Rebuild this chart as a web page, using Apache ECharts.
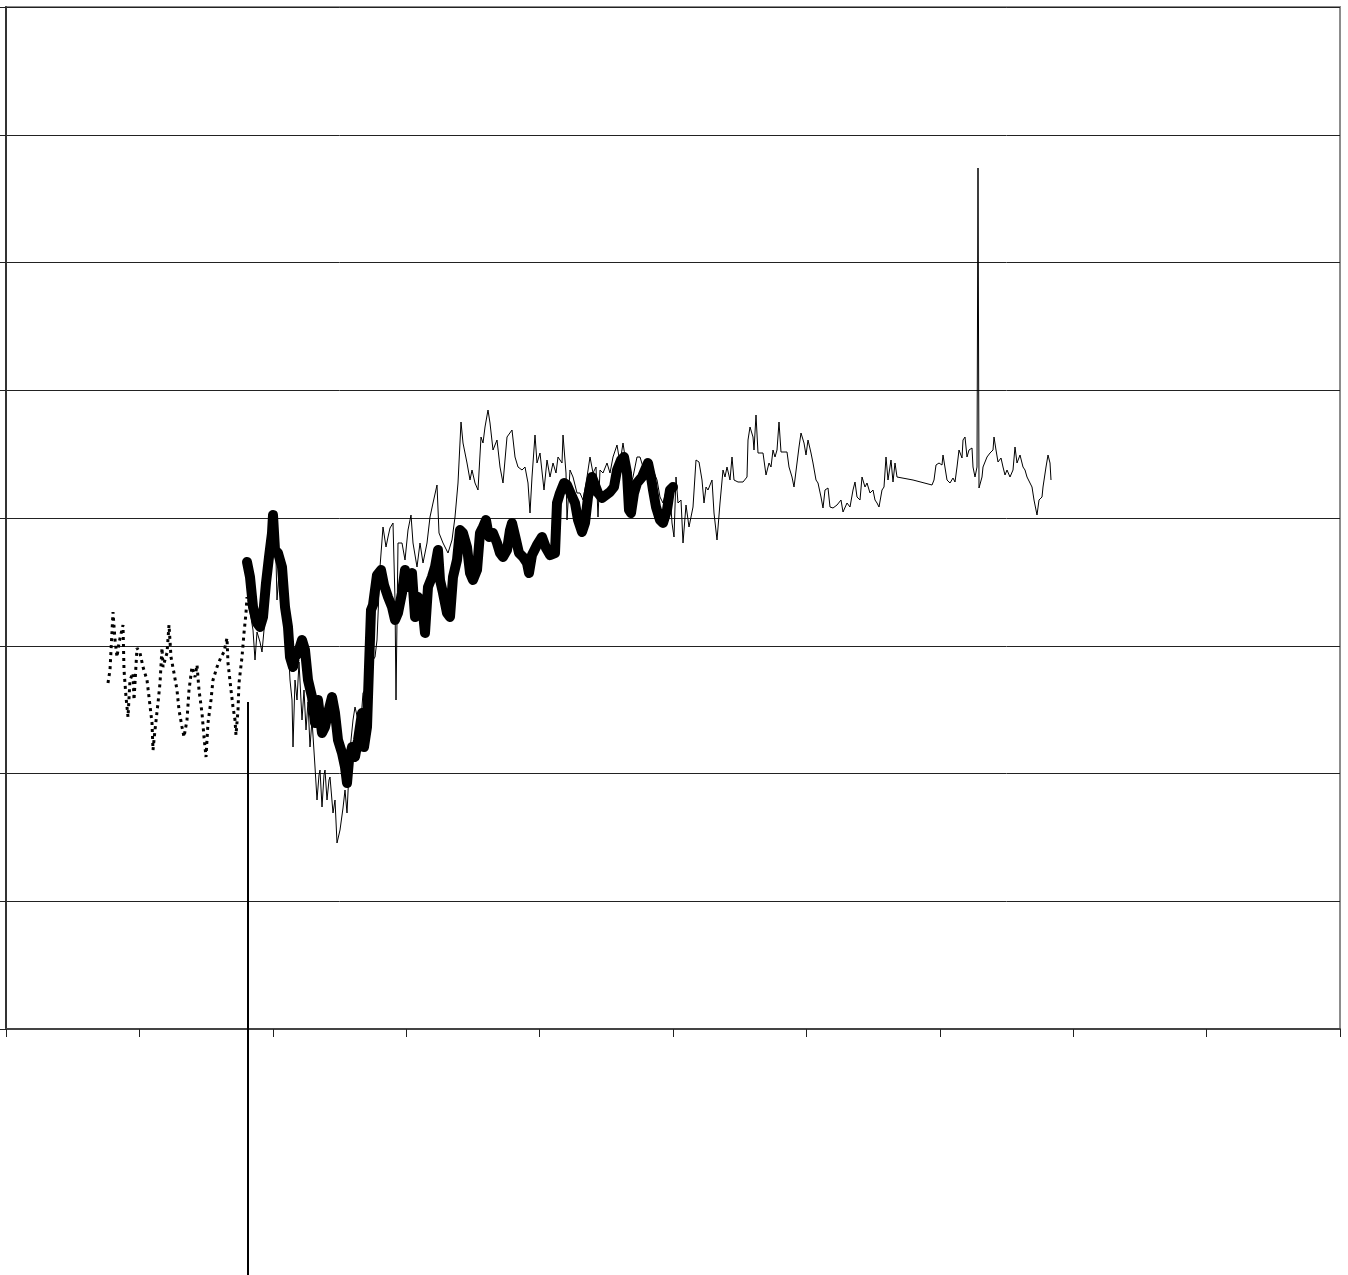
<!DOCTYPE html>
<html>
<head>
<meta charset="utf-8">
<script src="https://cdn.jsdelivr.net/npm/echarts@6/dist/echarts.min.js"></script>
<style>
html,body{margin:0;padding:0;background:#fff;}
#chart{width:1348px;height:1275px;}
</style>
</head>
<body>
<div id="chart"></div>
<script>
// Axis ranges (arbitrary units, no labels shown in the reference)
const xMin = 0, xMax = 1334, xStep = 133.4;
const yMin = 0, yMax = 1022, yStep = 127.75;

// Dotted series (early period)
const dottedX = [102,104,107,109,111,113,117,118,120,122,124,127,128,131,134,137,141,143,146,147,149,152,154,156,157,161,163,165,168,171,173,176,178,181,183,186,189,191,193,196,198,200,202,205,207,211,215,218,221,222,225,227,229,230,232,233,236,238,240,241];
const dottedY = [346,359,417,389,372,386,404,359,332,312,349,356,329,381,376,362,349,332,306,279,299,326,346,381,362,376,404,372,356,339,319,302,292,309,339,362,352,364,339,316,292,272,306,329,349,362,372,377,391,366,339,322,309,294,319,346,372,396,416,432];

// Thick series (smoothed)
const thickX = [241,244,247,251,254,257,260,263,266,267,269,272,276,279,282,284,287,289,292,296,299,302,306,309,312,316,319,322,326,329,332,336,339,341,343,346,349,352,356,358,361,363,365,367,371,375,378,382,386,389,392,396,399,402,406,409,412,416,419,422,426,429,432,434,437,441,444,447,451,454,457,461,464,467,471,474,477,480,483,487,491,494,497,501,504,506,510,513,517,521,523,526,531,536,540,544,549,551,554,558,561,564,569,572,576,579,582,586,589,592,596,600,604,608,611,615,618,621,623,625,628,631,636,639,642,645,647,650,654,657,661,664,667];
const thickY = [467,452,422,406,402,412,446,472,496,514,479,476,462,422,402,372,362,372,376,389,379,349,332,306,329,296,302,316,332,316,289,276,262,246,269,282,272,289,316,282,302,362,419,424,454,459,444,432,422,409,416,436,459,442,456,412,432,426,396,442,452,462,479,449,436,416,412,452,469,499,496,482,456,449,459,496,502,509,492,496,486,476,472,479,499,506,489,476,472,466,456,474,484,492,481,474,476,526,536,546,544,537,526,509,497,506,532,552,544,536,531,534,537,542,559,569,572,556,519,516,536,546,552,559,566,552,539,522,509,506,519,539,542];

// Thin series (raw)
const thinX = [242,244,247,249,251,254,256,258,260,263,266,268,270,271,273,276,279,282,284,286,287,289,291,293,296,298,300,302,304,306,309,311,313,314,316,318,319,321,323,324,327,329,331,334,337,339,341,344,347,349,352,354,357,361,364,367,369,371,374,377,380,382,384,387,389,390,391,392,396,399,402,405,407,411,414,417,421,424,427,431,433,437,442,446,449,452,455,457,461,464,466,469,472,475,477,479,482,484,487,491,494,497,501,506,509,512,516,519,522,524,526,529,531,534,538,541,544,547,550,552,556,557,560,561,564,567,571,574,577,581,584,587,590,592,594,597,601,604,607,611,614,617,621,624,627,631,634,637,641,644,647,651,654,657,661,664,666,668,670,672,675,677,680,683,687,690,693,696,698,700,702,706,708,711,714,717,719,721,724,726,728,732,737,741,742,744,747,748,750,752,754,757,760,763,765,767,769,771,773,775,777,781,783,786,788,791,793,795,798,800,802,805,807,810,812,815,817,819,822,824,827,831,835,837,841,844,847,849,851,854,856,859,861,864,867,869,871,873,876,878,880,882,885,887,889,891,907,926,928,930,933,936,937,939,941,944,947,949,951,953,956,957,959,961,963,966,967,969,971,972,973,976,977,979,981,984,987,988,990,992,995,997,999,1001,1004,1007,1009,1011,1014,1017,1019,1021,1023,1026,1028,1031,1033,1036,1037,1040,1042,1044,1045];
const thinY = [429,417,399,369,397,387,377,399,429,469,501,509,469,429,457,449,417,387,349,329,282,349,329,367,309,339,299,327,282,309,262,229,254,259,222,254,259,229,249,252,216,229,186,199,221,239,216,279,309,322,309,296,336,342,359,369,372,389,462,502,482,492,501,506,429,329,409,486,486,469,499,514,486,462,486,466,486,512,526,544,496,486,476,489,512,546,607,586,566,549,559,546,539,592,586,602,619,606,579,589,562,546,592,599,572,562,559,562,546,516,552,594,566,576,539,569,552,566,556,572,566,594,556,509,559,552,536,536,529,552,572,556,562,512,559,556,566,556,572,584,566,586,559,542,552,572,572,562,559,566,559,549,532,526,542,536,506,492,552,526,529,486,524,502,522,569,567,549,526,542,539,549,516,489,526,559,552,562,549,572,549,547,547,552,589,602,592,579,614,576,574,576,554,566,562,579,572,579,607,577,576,577,562,552,542,566,582,596,586,574,589,576,566,549,546,532,521,539,541,522,521,524,529,517,526,522,539,547,532,529,552,542,546,536,539,529,526,522,539,542,572,549,569,547,566,552,549,544,549,564,566,564,574,572,549,546,551,547,562,579,571,589,592,572,579,581,562,552,562,861,541,552,562,567,572,576,579,592,579,567,571,562,554,559,552,559,582,566,574,562,559,552,554,542,529,514,529,532,542,562,574,566,549];

// Vertical marker line
const markerX = [242, 242];
const markerY = [327, -246];

function pairs(xs, ys){ return xs.map((x,i)=>[x, ys[i]]); }

const chart = echarts.init(document.getElementById('chart'));
chart.setOption({
  animation: false,
  backgroundColor: '#ffffff',
  grid: {left: 6, right: 8, top: 7, bottom: 246, show: true, borderColor: '#8c8c8c', borderWidth: 2, backgroundColor: 'transparent'},
  xAxis: {
    type: 'value', min: xMin, max: xMax, interval: xStep,
    axisLine: {show: true, onZero: false, lineStyle: {color: '#444', width: 2}},
    axisTick: {show: true, length: 8, lineStyle: {color: '#222', width: 1}},
    axisLabel: {show: false},
    splitLine: {show: false}
  },
  yAxis: {
    type: 'value', min: yMin, max: yMax, interval: yStep,
    axisLine: {show: true, lineStyle: {color: '#333', width: 2}},
    axisTick: {show: true, length: 6, lineStyle: {color: '#222', width: 1}},
    axisLabel: {show: false},
    splitLine: {show: true, lineStyle: {color: '#222', width: 1}}
  },
  series: [
    {
      type: 'line', data: pairs(dottedX, dottedY), showSymbol: false, symbol: 'none',
      lineStyle: {color: '#000', width: 3, type: [3, 4], cap: 'butt'}
    },
    {
      type: 'line', data: pairs(thinX, thinY), showSymbol: false, symbol: 'none',
      lineStyle: {color: '#000', width: 1}
    },
    {
      type: 'line', data: pairs(thickX, thickY), showSymbol: false, symbol: 'none',
      lineStyle: {color: '#000', width: 10, cap: 'round', join: 'round'}
    },
    {
      type: 'line', data: pairs(markerX, markerY), showSymbol: false, symbol: 'none', clip: false,
      lineStyle: {color: '#000', width: 2}
    }
  ]
});
</script>
</body>
</html>
